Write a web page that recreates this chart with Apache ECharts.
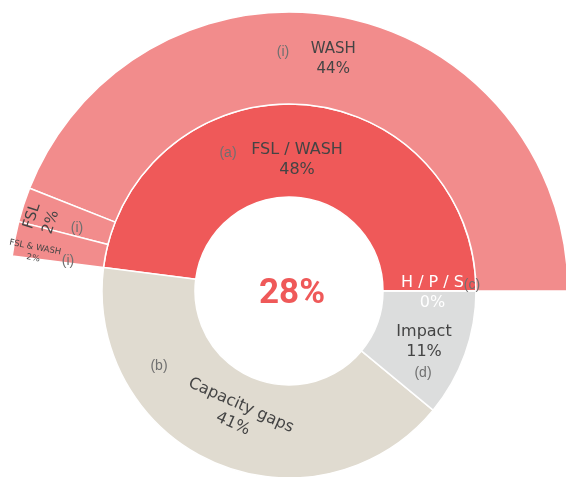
<!DOCTYPE html>
<html>
<head>
<meta charset="utf-8">
<script src="https://cdn.jsdelivr.net/npm/echarts@6/dist/echarts.min.js"></script>
<style>
  html, body { margin: 0; padding: 0; background: #ffffff; }
  #chart { width: 566px; height: 477px; }
</style>
</head>
<body>
<div id="chart"></div>
<script>
// Inner ring: top-level categories (percent of total)
const innerNames  = ['FSL / WASH', 'Capacity gaps', 'Impact', 'H / P / S'];
const innerValues = [48, 41, 11, 0];

// Outer ring: breakdown of "FSL / WASH"
const outerNames  = ['WASH', 'FSL', 'FSL & WASH'];
const outerValues = [44, 2, 2];

// Headline figure in the hole
const centerValue = 28;

// Colours
const innerColors = ['#EF5959', '#E0DBD0', '#DCDDDD', '#DCDDDD'];
const outerColor  = '#F28C8C';
const textColor   = '#444444';
const letterColor = '#707070';

// Geometry
const CX = 289, CY = 291;
const R0 = 94, R1 = 187, R2 = 279;

// Screen-space nudges for labels inside the sectors
const labelNudge = {
  'FSL / WASH':    [-1, 12],
  'Capacity gaps': [5, -8],
  'Impact':        [0, 2],
  'H / P / S':     [0, 2],
  'WASH':          [0, 0],
  'FSL':           [-23, 1],
  'FSL & WASH':    [-23, 6]
};

// Per-label rotation (degrees, counter-clockwise)
const labelRotate = {
  'Capacity gaps': -24,
  'FSL': 72,
  'FSL & WASH': -11
};

// Reference letters placed beside the labels
const letters = [
  { t: '(a)', x: 228, y: 153 },
  { t: '(i)', x: 283, y: 52 },
  { t: '(i)', x: 77,  y: 228 },
  { t: '(i)', x: 68,  y: 261 },
  { t: '(b)', x: 159, y: 366 },
  { t: '(c)', x: 472, y: 285 },
  { t: '(d)', x: 423, y: 373 }
];

const baseFont = 'DejaVu Sans';

const innerData = innerNames.map((n, i) => {
  const lab = {};
  if (labelRotate[n] != null) lab.rotate = labelRotate[n];
  if (n === 'H / P / S') lab.color = '#ffffff';
  return {
    name: n,
    value: innerValues[i],
    itemStyle: { color: innerColors[i] },
    label: lab
  };
});

const outerSum = outerValues.reduce((a, b) => a + b, 0);
const outerData = outerNames.map((n, i) => {
  const lab = {};
  if (labelRotate[n] != null) lab.rotate = labelRotate[n];
  if (n === 'FSL & WASH') { lab.fontSize = 8.5; lab.lineHeight = 11; }
  return {
    name: n,
    value: outerValues[i],
    itemStyle: { color: outerColor },
    label: lab
  };
});
// Unused remainder of the outer circle
outerData.push({
  name: '',
  value: 100 - outerSum,
  itemStyle: { color: 'rgba(0,0,0,0)', borderWidth: 0 },
  label: { show: false },
  emphasis: { disabled: true },
  tooltip: { show: false }
});

// The offset is applied in the label's own (rotated) frame,
// so convert the screen-space nudge back into that frame.
function nudge(names) {
  return function (p) {
    const n = names[p.dataIndex];
    const d = labelNudge[n];
    if (!d) return {};
    const th = (labelRotate[n] || 0) * Math.PI / 180;
    const c = Math.cos(th), s = Math.sin(th);
    return { dx: d[0] * c - d[1] * s, dy: d[0] * s + d[1] * c };
  };
}

const chart = echarts.init(document.getElementById('chart'), null, { renderer: 'canvas' });

const labelBase = {
  show: true,
  position: 'inside',
  formatter: p => p.name + '\n' + p.value + '%',
  color: textColor,
  fontFamily: baseFont,
  lineHeight: 20
};

chart.setOption({
  animation: false,
  backgroundColor: '#ffffff',
  series: [
    {
      type: 'pie',
      center: [CX, CY],
      radius: [R0, R1],
      startAngle: 0,
      clockwise: false,
      avoidLabelOverlap: false,
      silent: true,
      itemStyle: { borderColor: '#ffffff', borderWidth: 1.5 },
      label: Object.assign({}, labelBase, { fontSize: 16 }),
      labelLine: { show: false },
      labelLayout: nudge(innerNames),
      data: innerData
    },
    {
      type: 'pie',
      center: [CX, CY],
      radius: [R1, R2],
      startAngle: 0,
      clockwise: false,
      avoidLabelOverlap: false,
      silent: true,
      itemStyle: { borderColor: '#ffffff', borderWidth: 1.5 },
      label: Object.assign({}, labelBase, { fontSize: 15 }),
      labelLine: { show: false },
      labelLayout: nudge(outerNames.concat([''])),
      data: outerData
    }
  ],
  graphic: [
    {
      type: 'text',
      x: 292, y: CY + 3,
      style: {
        text: centerValue + '%',
        font: 'bold 35px Roboto',
        fill: '#EF5959',
        align: 'center',
        verticalAlign: 'middle'
      },
      z: 10
    }
  ].concat(letters.map(l => ({
    type: 'text',
    x: l.x, y: l.y,
    style: {
      text: l.t,
      font: '14px "Liberation Sans"',
      fill: letterColor,
      align: 'center',
      verticalAlign: 'middle'
    },
    z: 10
  })))
});
</script>
</body>
</html>
